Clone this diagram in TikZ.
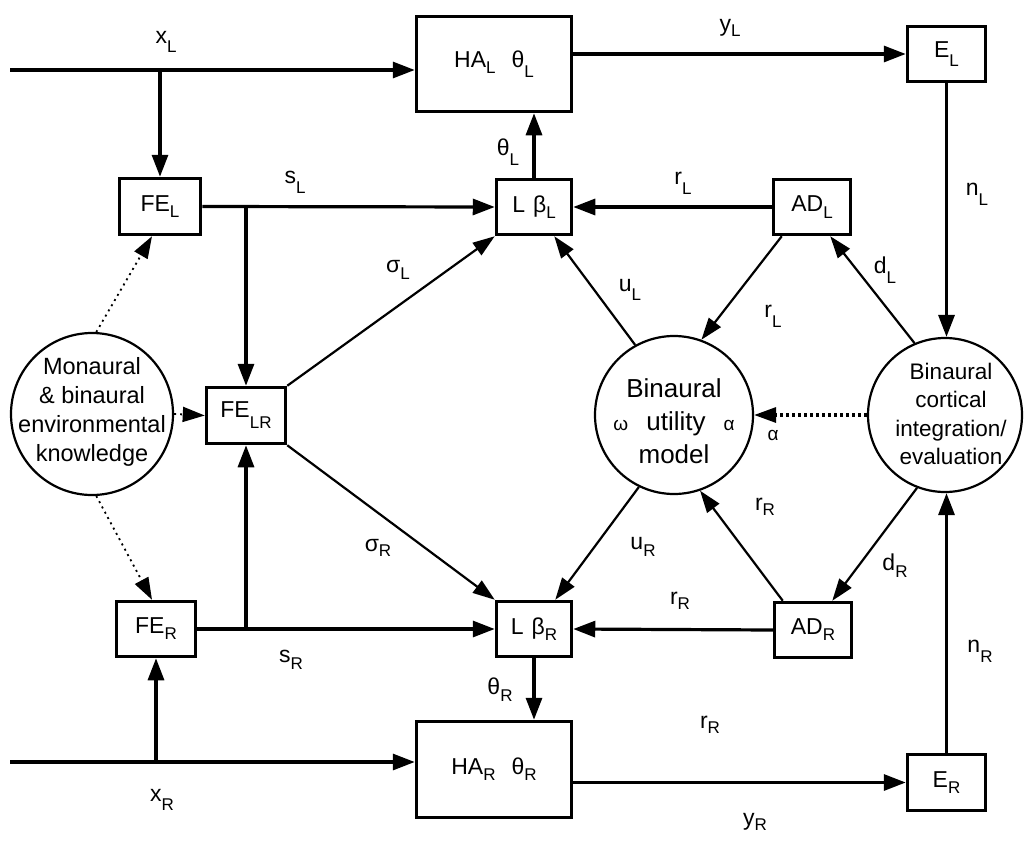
\documentclass[tikz,border=0pt]{standalone}
\usepackage{fontspec}
\setmainfont{Liberation Sans}
\usetikzlibrary{arrows.meta,calc}
\newcommand{\lsub}[2][0.5ex]{\raisebox{-#1}{\fontsize{17}{17}\selectfont #2}}
\begin{document}
\begin{tikzpicture}[x=1pt,y=-1pt,
  font=\fontsize{23}{27}\selectfont,
  box/.style={draw, line width=3.5pt, inner sep=0pt},
  circ/.style={draw, circle, line width=2.2pt, inner sep=0pt},
  ctext/.style={align=center, inner sep=0pt},
  main/.style={line width=3.2pt, -{Triangle[length=22pt,width=16pt]}},
  diag/.style={line width=2.2pt, -{Triangle[length=22pt,width=15pt]}},
  dots/.style={line width=1.8pt, dash pattern=on 2pt off 4pt, -{Triangle[length=22pt,width=15pt]}},
  lab/.style={inner sep=0pt}]
\useasboundingbox (0,0) rectangle (1032,843);
% boxes
\node[box, minimum width=155pt, minimum height=95pt] (HAL) at (494,64) {HA\lsub{L}\hspace{16pt}θ\lsub[0.8ex]{L}};
\node[box, minimum width=155pt, minimum height=96pt] (HAR) at (494,769.5) {HA\lsub{R}\hspace{16pt}θ\lsub{R}};
\node[box, minimum width=78pt, minimum height=55pt] (EL) at (946.5,54) {E\lsub[0.8ex]{L}};
\node[box, minimum width=78pt, minimum height=56pt] (ER) at (946.5,782.5) {E\lsub{R}};
\node[box, minimum width=81pt, minimum height=56pt] (FEL) at (160,206.5) {FE\lsub{L}};
\node[box, minimum width=79pt, minimum height=55pt] (FER) at (156,629) {FE\lsub{R}};
\node[box, minimum width=79pt, minimum height=56pt] (FELR) at (246,415.5) {FE\lsub[0.9ex]{LR}};
\node[box, minimum width=75pt, minimum height=55pt] (LbL) at (534,207) {L\hspace{8pt}β\lsub{L}};
\node[box, minimum width=75pt, minimum height=55pt] (LbR) at (534,629) {L\hspace{8pt}β\lsub{R}};
\node[box, minimum width=77pt, minimum height=55pt] (ADL) at (812,207) {AD\lsub[0.6ex]{L}};
\node[box, minimum width=77pt, minimum height=55pt] (ADR) at (813,630) {AD\lsub{R}};
% circles
\node[circ, minimum size=162pt] (Mon) at (92,414) {};
\node[ctext, font=\fontsize{23.5}{29}\selectfont] (MonT) at (92,412) {Monaural\\\& binaural\\environmental\\knowledge};
\node[circ, minimum size=158pt] (Util) at (674,415) {};
\node[ctext, font=\fontsize{26}{33}\selectfont] (UtilT) at (674,421) {Binaural\\{\fontsize{19}{19}\selectfont ω}\hspace{18pt}utility\hspace{18pt}{\fontsize{19}{19}\selectfont α}\\model};
\node[circ, minimum size=154pt] (Cort) at (945,415) {};
\node[ctext, font=\fontsize{22.5}{28.5}\selectfont] (CortT) at (951,414) {Binaural\\cortical\\integration/\\evaluation};
% main connectors
\coordinate (inL) at (10,70);
\coordinate (inR) at (10,762);
\draw[main] (inL) -- (inL -| HAL.west);
\draw[main] (inL -| FEL.north) -- (FEL.north);
\draw[main] (FEL.east) -- (LbL.west);
\draw[main] (FEL.east -| FELR.north) -- (FELR.north);
\draw[main] (LbL.north) -- (LbL.north |- HAL.south);
\draw[main] (EL.west -| HAL.east) -- (EL.west);
\draw[main] (EL.south) -- (EL.south |- Cort.north);
\draw[main] (ADL.west) -- (LbL.east);
\draw[main] (ADR.west) -- (LbR.east);
\draw[main] (ER.north) -- (ER.north |- Cort.south);
\draw[main] (ER.west -| HAR.east) -- (ER.west);
\draw[main] (LbR.south) -- (LbR.south |- HAR.north);
\draw[main] (inR) -- (inR -| HAR.west);
\draw[main] (inR -| FER.south) -- (FER.south);
\draw[main] (FER.east) -- (LbR.west);
\draw[main] (FER.east -| FELR.south) -- (FELR.south);
% diagonals
\draw[diag] (FELR.north east) -- (LbL.south west);
\draw[diag] (FELR.south east) -- (LbR.north west);
\draw[diag] (Util.119) -- ([xshift=-19pt]LbL.south east);
\draw[diag] ([xshift=10pt]ADL.south west) -- (Util.70);
\draw[diag] (Cort.113) -- ([xshift=-22pt]ADL.south east);
\draw[diag] (Util.244) -- ([xshift=-18pt]LbR.north east);
\draw[diag] ([xshift=10pt]ADR.north west) -- (Util.289);
\draw[diag] (Cort.249) -- ([xshift=-21pt]ADR.north east);
% dotted
\draw[dots] (Mon.87) -- ([xshift=-8pt]FEL.south);
\draw[dots] (Mon.east) -- (FELR.west);
\draw[dots] (Mon.273) -- ([xshift=-4pt]FER.north);
\draw[dots, line width=3.2pt, dash pattern=on 3pt off 3pt] (Cort.west) -- (Util.east);
% labels
\node[lab] (lxL) at (166,42) {x\lsub[0.8ex]{L}};
\node[lab] (lyL) at (730,28) {y\lsub[0.4ex]{L}};
\node[lab] (lsL) at (295,182) {s\lsub[0.8ex]{L}};
\node[lab] (lthL) at (508,152) {θ\lsub[0.8ex]{L}};
\node[lab] (lrL1) at (683,183) {r\lsub[0.8ex]{L}};
\node[lab] (lnL) at (977,194) {n\lsub[0.8ex]{L}};
\node[lab] (lsigL) at (398,270) {σ\lsub[0.6ex]{L}};
\node[lab] (luL) at (630,290) {u\lsub[0.8ex]{L}};
\node[lab] (ldL) at (885,270) {d\lsub[0.8ex]{L}};
\node[lab] (lrL2) at (773,316) {r\lsub[0.8ex]{L}};
\node[lab, font=\fontsize{19}{19}\selectfont] (lalpha) at (773,435) {α};
\node[lab] (lsigR) at (378,548) {σ\lsub[0.4ex]{R}};
\node[lab] (luR) at (643,547) {u\lsub[0.6ex]{R}};
\node[lab] (lrR1) at (765,507) {r\lsub[0.4ex]{R}};
\node[lab] (ldR) at (895,566) {d\lsub[0.6ex]{R}};
\node[lab] (lrR2) at (680,601) {r\lsub[0.4ex]{R}};
\node[lab] (lnR) at (980,651) {n\lsub[0.8ex]{R}};
\node[lab] (lrR3) at (710,725) {r\lsub[0.4ex]{R}};
\node[lab] (lyR) at (755,822) {y\lsub[0.4ex]{R}};
\node[lab] (lsR) at (291,660) {s\lsub[0.6ex]{R}};
\node[lab] (lthR) at (500,690) {θ\lsub[0.6ex]{R}};
\node[lab] (lxR) at (162,800) {x\lsub[0.8ex]{R}};
\end{tikzpicture}
\end{document}
